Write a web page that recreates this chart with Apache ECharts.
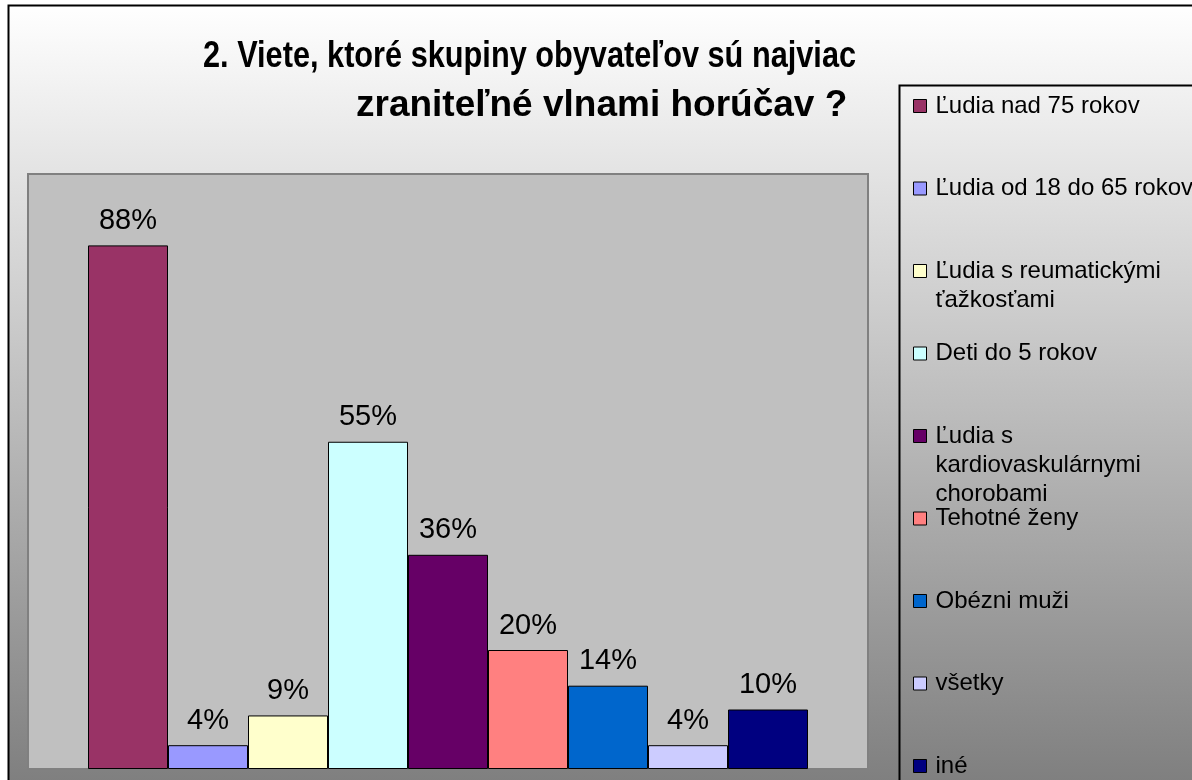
<!DOCTYPE html>
<html>
<head>
<meta charset="utf-8">
<title>Zraniteľné skupiny</title>
<script src="https://cdn.jsdelivr.net/npm/echarts@6/dist/echarts.min.js"></script>
<style>
  html, body { margin: 0; padding: 0; background: #fff; }
  #chart { width: 1192px; height: 780px; }
</style>
</head>
<body>
<div id="chart"></div>
<script>
const titleLines = ['2. Viete, ktoré skupiny obyvateľov sú najviac', 'zraniteľné vlnami horúčav ?']
// skupiny (nazvy radov), s zalomenim ako v legende
const groups = [
  'Ľudia nad 75 rokov',
  'Ľudia od 18 do 65 rokov',
  'Ľudia s reumatickými\nťažkosťami',
  'Deti do 5 rokov',
  'Ľudia s\nkardiovaskulárnymi\nchorobami',
  'Tehotné ženy',
  'Obézni muži',
  'všetky',
  'iné'
]
// odpovede v %
const shares = [88, 4, 9, 55, 36, 20, 14, 4, 10]
const barColors = ['#993366', '#9999FF', '#FFFFCC', '#CCFFFF', '#660066', '#FF8080', '#0066CC', '#CCCCFF', '#000080']

const font = "'Liberation Sans', Arial, sans-serif"
const legendLH = 29

let chart = echarts.init(document.getElementById('chart'))

let series = groups.map((name, i) => ({
  name: name,
  type: 'bar',
  barWidth: 80,
  barGap: '0%',
  itemStyle: {
    color: barColors[i],
    borderColor: '#000',
    borderWidth: 1
  },
  label: {
    show: true,
    position: 'top',
    distance: 10,
    fontFamily: font,
    fontSize: 29,
    color: '#000',
    formatter: '{c}%'
  },
  data: [shares[i]]
}))

// kazda polozka legendy zvlast, ako v Exceli (rovnake rozostupy),
// znacka stoji pri prvom riadku textu -> prazdne riadky navrch
let legends = groups.map((name, i) => {
  let lines = name.split('\n').length
  let center = 106 + i * 82.5
  return {
    data: [name],
    orient: 'vertical',
    left: 913,
    top: center - (2 * lines - 1) * legendLH / 2,
    padding: 0,
    selectedMode: false,
    icon: 'rect',
    itemWidth: 13,
    itemHeight: 13,
    itemGap: 0,
    itemStyle: {
      borderColor: '#000',
      borderWidth: 1
    },
    formatter: (n) => '\n'.repeat(lines - 1) + n,
    textStyle: {
      fontFamily: font,
      fontSize: 24,
      color: '#000',
      lineHeight: legendLH,
      padding: [0, 0, 0, 4]
    }
  }
})

let option = {
  animation: false,
  textStyle: { fontFamily: font },
  title: {
    text: titleLines[1],
    left: 356,
    top: 87,
    padding: 0,
    textStyle: {
      fontFamily: font,
      fontSize: 37,
      fontWeight: 'bold',
      color: '#000'
    }
  },
  legend: legends,
  graphic: [
    {
      // pozadie grafu s prechodom
      type: 'rect',
      z: -10,
      silent: true,
      shape: { x: 8.5, y: 5.5, width: 1300, height: 776 },
      style: {
        fill: new echarts.graphic.LinearGradient(0, 0, 0, 1, [
          { offset: 0, color: '#ffffff' },
          { offset: 1, color: '#7f7f7f' }
        ]),
        stroke: '#000',
        lineWidth: 2
      }
    },
    {
      // prvy riadok nadpisu je v originali zuzeny
      type: 'text',
      x: 203,
      y: 38,
      scaleX: 0.83,
      silent: true,
      style: {
        text: titleLines[0],
        fontFamily: font,
        fontSize: 37,
        fontWeight: 'bold',
        fill: '#000',
        verticalAlign: 'top'
      }
    },
    {
      // ram legendy
      type: 'rect',
      z: 10,
      silent: true,
      shape: { x: 899.5, y: 85.5, width: 400, height: 800 },
      style: { fill: 'none', stroke: '#000', lineWidth: 2 }
    }
  ],
  grid: {
    show: true,
    left: 28,
    right: 324,
    top: 174,
    bottom: 11,
    backgroundColor: '#C0C0C0',
    borderColor: '#808080',
    borderWidth: 2
  },
  xAxis: {
    type: 'category',
    data: [''],
    show: false
  },
  yAxis: {
    type: 'value',
    min: 0,
    max: 100,
    show: false
  },
  series: series
}

chart.setOption(option)
</script>
</body>
</html>
